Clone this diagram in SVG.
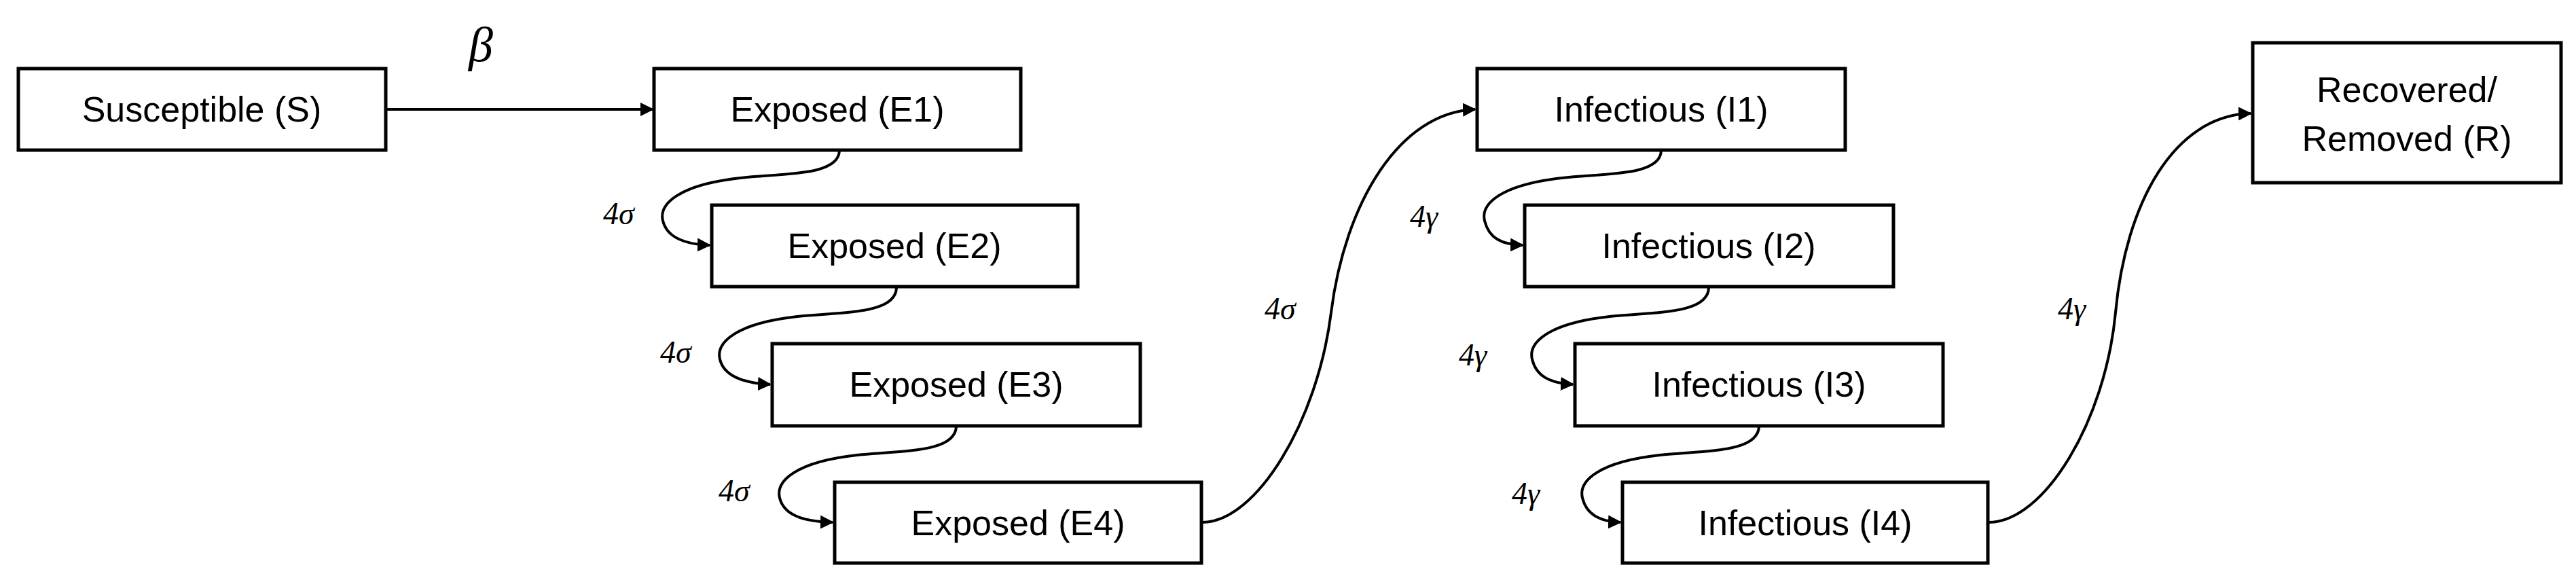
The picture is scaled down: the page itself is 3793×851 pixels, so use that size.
<svg xmlns="http://www.w3.org/2000/svg" width="3793" height="851" viewBox="0 0 3793 851">
<defs>
<style>
.b{fill:#fff;stroke:#000;stroke-width:5}
.t{font-family:"Liberation Sans Narrow","Liberation Sans",Arial,sans-serif;font-size:52px;text-anchor:middle;fill:#000}
.m{font-family:"Liberation Serif","Times New Roman",serif;font-style:italic;font-size:46px;fill:#000}
.c{fill:none;stroke:#000;stroke-width:4;marker-end:url(#a)}
</style>
<marker id="a" viewBox="0 0 10 10" refX="9" refY="5" markerWidth="5" markerHeight="5" orient="auto" markerUnits="strokeWidth"><path d="M0 0L10 5L0 10z" fill="#000"/></marker>
</defs>
<rect width="3793" height="851" fill="#fff"/>
<g id="connectors">
<path class="c" d="M568 161H961"/>
<path class="c" d="M1236 221C1236 260 1150 255 1090 262C1000 272 970 300 976 325C982 350 1010 360 1045 361"/>
<path class="c" d="M1320 423C1320 464 1234 459 1174 466C1084 476 1054 504 1060 529C1066 554 1094 564 1134 566"/>
<path class="c" d="M1408 627C1408 668 1322 663 1262 670C1172 680 1142 708 1148 733C1154 758 1182 768 1226 769"/>
<path class="c" d="M1770 769C1850 769 1940 620 1960 460C1980 300 2060 165 2172 161"/>
<path class="c" d="M2446 221C2446 260 2360 255 2300 262C2210 272 2180 300 2186 325C2192 350 2210 360 2242 361"/>
<path class="c" d="M2516 423C2516 464 2430 459 2370 466C2280 476 2250 504 2256 529C2262 554 2282 564 2316 566"/>
<path class="c" d="M2590 627C2590 668 2504 663 2444 670C2354 680 2324 708 2330 733C2336 758 2356 768 2386 769"/>
<path class="c" d="M2928 769C3010 769 3100 620 3115 460C3130 300 3200 170 3314 167"/>
<text class="m" x="690" y="90" style="font-size:72px">β</text>
<text class="m" x="888" y="330">4σ</text>
<text class="m" x="972" y="534">4σ</text>
<text class="m" x="1058" y="738">4σ</text>
<text class="m" x="1862" y="470">4σ</text>
<text class="m" x="2076" y="334">4γ</text>
<text class="m" x="2148" y="538">4γ</text>
<text class="m" x="2226" y="742">4γ</text>
<text class="m" x="3030" y="470">4γ</text>
</g>
<g id="S"><rect class="b" x="27" y="101" width="541" height="120"/><text class="t" x="297" y="179">Susceptible (S)</text></g>
<g id="E1"><rect class="b" x="963" y="101" width="540" height="120"/><text class="t" x="1233" y="179">Exposed (E1)</text></g>
<g id="E2"><rect class="b" x="1048" y="302" width="539" height="120"/><text class="t" x="1317" y="380">Exposed (E2)</text></g>
<g id="E3"><rect class="b" x="1137" y="506" width="542" height="121"/><text class="t" x="1408" y="584">Exposed (E3)</text></g>
<g id="E4"><rect class="b" x="1229" y="710" width="540" height="119"/><text class="t" x="1499" y="788">Exposed (E4)</text></g>
<g id="I1"><rect class="b" x="2175" y="101" width="542" height="120"/><text class="t" x="2446" y="179">Infectious (I1)</text></g>
<g id="I2"><rect class="b" x="2245" y="302" width="543" height="120"/><text class="t" x="2516" y="380">Infectious (I2)</text></g>
<g id="I3"><rect class="b" x="2319" y="506" width="542" height="121"/><text class="t" x="2590" y="584">Infectious (I3)</text></g>
<g id="I4"><rect class="b" x="2389" y="710" width="538" height="119"/><text class="t" x="2658" y="788">Infectious (I4)</text></g>
<g id="R"><rect class="b" x="3317" y="63" width="454" height="206"/><text class="t" x="3544" y="150">Recovered/</text><text class="t" x="3544" y="222">Removed (R)</text></g>
</svg>
